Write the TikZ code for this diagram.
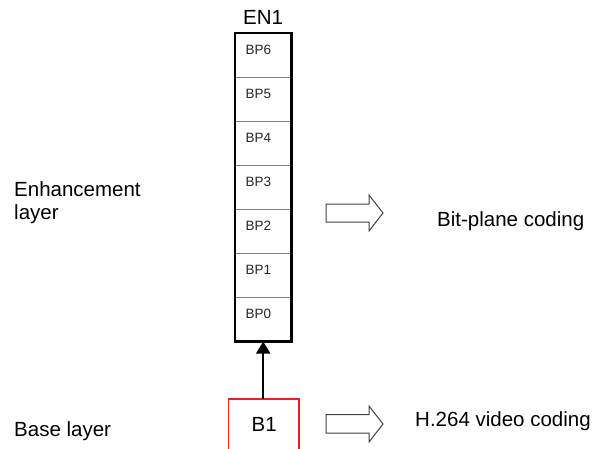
\documentclass[tikz,border=0pt]{standalone}
\usepackage{fontspec}
\setmainfont{Liberation Sans}
\usetikzlibrary{arrows.meta}
\definecolor{framered}{RGB}{240,30,30}
\definecolor{rulegray}{RGB}{128,128,128}
\begin{document}
\begin{tikzpicture}[x=1pt,y=-1pt,
  bigtext/.style={font=\fontsize{20.5}{24}\selectfont, inner sep=0pt, anchor=base west},
  bptext/.style={font=\fontsize{13.5}{16}\selectfont, text=black!85, inner sep=0pt, anchor=base west},
  stackframe/.style={draw=black, line width=2.6pt},
  planeline/.style={draw=rulegray, line width=0.9pt},
  baseframe/.style={draw=framered, line width=1.1pt},
  blockarrow/.style={draw=black!75, line width=1pt, fill=white, line join=miter},
  uparrow/.style={draw=black, line width=1.8pt, -{Triangle[width=14pt,length=12pt]}}
]
\useasboundingbox (0,0) rectangle (604,448);

% bit-plane stack of the enhancement layer
\foreach \i in {1,...,6}
  \draw[planeline] (235,{33+44.1*\i}) -- (291.5,{33+44.1*\i});
\draw[stackframe] (235,33) rectangle (291.5,341.5);
\coordinate (stackbottom) at (263.2,341.5);

\node[bigtext] (en1) at (243,24) {EN1};
\foreach \i/\n in {0/6,1/5,2/4,3/3,4/2,5/1,6/0}
  \node[bptext] (bp\n) at (245.5,{54+44.1*\i}) {BP\n};

% base layer block (runs past the lower edge)
\draw[baseframe] (228.3,399) rectangle (299,470);
\coordinate (basetop) at (263.2,399);
\node[bigtext] (b1) at (251.5,431.5) {B1};

\draw[uparrow] (basetop) -- (stackbottom);

% left-hand labels
\node[bigtext] (enh) at (14,196) {Enhancement};
\node[bigtext] (enh2) at (14,219.5) {layer};
\node[bigtext] (base) at (14,436) {Base layer};

% hollow block arrows
\draw[blockarrow] (326,204) -- (369,204) -- (369,195) -- (383,213) -- (369,231) -- (369,222) -- (326,222) -- cycle;
\draw[blockarrow] (326,414.5) -- (369,414.5) -- (369,406) -- (383,424) -- (369,442) -- (369,433) -- (326,433) -- cycle;

% right-hand labels
\node[bigtext] (bpc) at (437,226.5) {Bit-plane coding};
\node[bigtext] (h264) at (415,426) {H.264 video coding};
\end{tikzpicture}
\end{document}
